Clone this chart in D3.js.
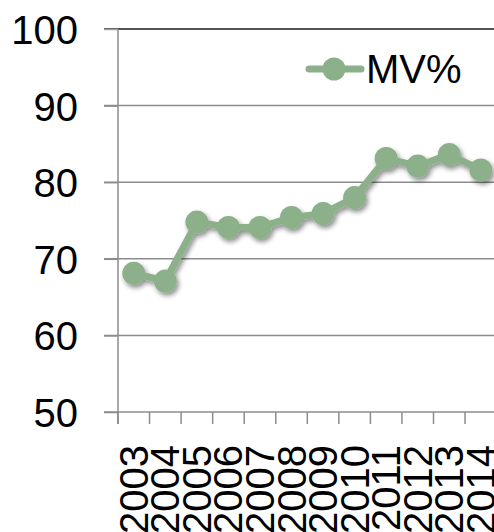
<!DOCTYPE html>
<html><head><meta charset="utf-8">
<script src="https://cdn.jsdelivr.net/npm/d3@7"></script>
<style>html,body{margin:0;padding:0;background:#fff;overflow:hidden}</style>
</head><body>
<svg id="chart" width="494" height="532"></svg>
<script>
const years = ["2003","2004","2005","2006","2007","2008","2009","2010","2011","2012","2013","2014"];
const mvValues = [68.1, 67.1, 74.8, 74.1, 74.1, 75.4, 75.9, 78.0, 83.1, 82.1, 83.6, 81.6];
const yTicks = [50, 60, 70, 80, 90, 100];
const seriesName = "MV%";

(function () {
const svg = d3.select("#chart");
const color = "#8bb08a";
const font = "'Liberation Sans', Arial, sans-serif";
const pLeft = 118, pTop = 29, pBottom = 412, step = 31.55;

const x = d3.scaleBand().domain(years).range([pLeft, pLeft + step * years.length]).paddingInner(0).paddingOuter(0);
const y = d3.scaleLinear().domain([50, 100]).range([pBottom, pTop]);

const defs = svg.append("defs");
const f = defs.append("filter").attr("id","sh").attr("x","-50%").attr("y","-50%").attr("width","200%").attr("height","200%");
f.append("feGaussianBlur").attr("in","SourceAlpha").attr("stdDeviation",2.5).attr("result","b");
f.append("feOffset").attr("in","b").attr("dx",2).attr("dy",3).attr("result","o");
f.append("feComponentTransfer").attr("in","o").attr("result","o2").append("feFuncA").attr("type","linear").attr("slope",0.45);
const m = f.append("feMerge"); m.append("feMergeNode").attr("in","o2"); m.append("feMergeNode").attr("in","SourceGraphic");

// gridlines
svg.append("g").selectAll("line").data(yTicks.filter(d => d > 50)).join("line")
  .attr("x1", pLeft - 14).attr("x2", 494).attr("y1", d => y(d)).attr("y2", d => y(d))
  .attr("stroke", d => d === 100 ? "#1a1a1a" : "#8c8c8c").attr("stroke-width", 1.5);

// y axis
const yAxis = svg.append("g").attr("transform", `translate(${pLeft},0)`)
  .call(d3.axisLeft(y).tickValues(yTicks).tickSize(14).tickPadding(26).tickFormat(d3.format("d")));
yAxis.select(".domain").attr("stroke", "#8c8c8c").attr("stroke-width", 1.5).attr("d", `M0,${pTop}V${pBottom + 12}`);
yAxis.selectAll(".tick line").attr("stroke", d => d === 100 ? "#a0a0a0" : "#8c8c8c").attr("stroke-width", 1.5);
yAxis.selectAll("text").attr("font-family", font).attr("font-size", 40).attr("fill", "#000").attr("dy", "0.36em");

// x axis
const xAxis = svg.append("g").attr("transform", `translate(0,${pBottom})`)
  .call(d3.axisBottom(x).tickSize(0).tickFormat(""));
xAxis.select(".domain").attr("stroke", "#8c8c8c").attr("stroke-width", 1.5).attr("d", `M${pLeft - 14},0H494`);
xAxis.selectAll(".tick").remove();
const edges = years.map(d => x(d)).concat([x(years[years.length-1]) + x.bandwidth()]);
xAxis.append("g").selectAll("line").data(edges).join("line")
  .attr("x1", d => d).attr("x2", d => d).attr("y1", 0).attr("y2", 12)
  .attr("stroke", "#8c8c8c").attr("stroke-width", 1.5);
xAxis.append("g").selectAll("text").data(years).join("text")
  .attr("transform", d => `translate(${x(d) + x.bandwidth()/2 + 14},33) rotate(-90)`)
  .attr("text-anchor", "end")
  .attr("font-family", font).attr("font-size", 40).attr("fill", "#000")
  .text(d => d);

// series
const g = svg.append("g").attr("filter", "url(#sh)");
g.append("path").datum(mvValues)
  .attr("d", d3.line().x((d, i) => x(years[i]) + x.bandwidth()/2).y(d => y(d)))
  .attr("fill", "none").attr("stroke", color).attr("stroke-width", 7).attr("stroke-linejoin", "round");
g.selectAll("circle").data(mvValues).join("circle")
  .attr("cx", (d, i) => x(years[i]) + x.bandwidth()/2).attr("cy", d => y(d)).attr("r", 11.5)
  .attr("fill", color);

// legend
const lg = svg.append("g");
lg.append("line").attr("x1", 309).attr("x2", 361).attr("y1", 69).attr("y2", 69)
  .attr("stroke", color).attr("stroke-width", 7).attr("stroke-linecap", "round");
lg.append("circle").attr("cx", 334).attr("cy", 69).attr("r", 11.5).attr("fill", color);
lg.append("text").attr("x", 366).attr("y", 69).attr("dy", "0.36em")
  .attr("font-family", font).attr("font-size", 40).attr("fill", "#000").text(seriesName);
})();
</script>
</body></html>
